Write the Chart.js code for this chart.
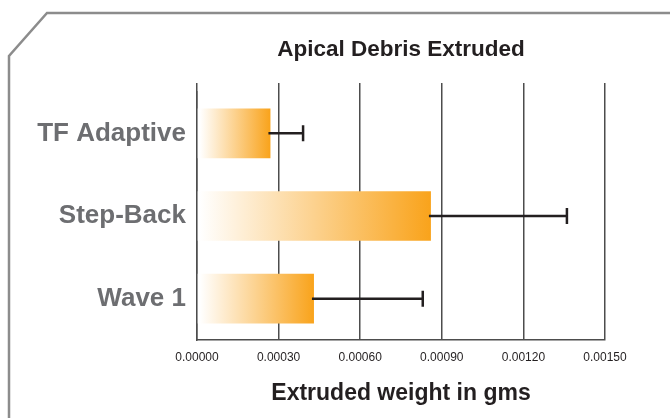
<!DOCTYPE html>
<html>
<head>
<meta charset="utf-8">
<script src="https://cdn.jsdelivr.net/npm/chart.js@4.4.0/dist/chart.umd.min.js"></script>
<style>
  body { margin: 0; background: #fff; }
  #wrap { width: 670px; height: 418px; }
</style>
</head>
<body>
<div id="wrap"><canvas id="grafico"></canvas></div>
<script>
// datos
const categorias = ['TF Adaptive', 'Step-Back', 'Wave 1'];
const pesos = [0.00027, 0.00086, 0.00043];
const errores = [0.00012, 0.0005, 0.0004];
const ticksX = [0, 0.0003, 0.0006, 0.0009, 0.0012, 0.0015];

const fuente = "'Liberation Sans', Arial, sans-serif";

// marco gris con la esquina cortada
const marco = {
  id: 'marco',
  beforeDraw(chart) {
    const ctx = chart.ctx;
    ctx.save();
    ctx.strokeStyle = '#8c8c8c';
    ctx.lineWidth = 2.5;
    ctx.beginPath();
    ctx.moveTo(9, 420);
    ctx.lineTo(9, 56);
    ctx.lineTo(47, 13);
    ctx.lineTo(672, 13);
    ctx.stroke();
    ctx.restore();
  }
};

// barras de error a la derecha de cada barra
const barrasError = {
  id: 'barrasError',
  afterDatasetsDraw(chart) {
    const ctx = chart.ctx;
    const x = chart.scales.x;
    const meta = chart.getDatasetMeta(0);
    ctx.save();
    ctx.strokeStyle = '#231f20';
    ctx.lineWidth = 2.5;
    meta.data.forEach((bar, i) => {
      const x0 = bar.x - 2;
      const x1 = x.getPixelForValue(pesos[i] + errores[i]);
      ctx.beginPath();
      ctx.moveTo(x0, bar.y);
      ctx.lineTo(x1, bar.y);
      ctx.moveTo(x1, bar.y - 8);
      ctx.lineTo(x1, bar.y + 8);
      ctx.stroke();
    });
    ctx.restore();
  }
};

function degradado(context) {
  const chart = context.chart;
  if (!chart.chartArea) return '#f9a31b';
  const x = chart.scales.x;
  const i = context.dataIndex;
  const a = x.getPixelForValue(0) + 3;
  const b = x.getPixelForValue(pesos[i]);
  const g = chart.ctx.createLinearGradient(a, 0, b, 0);
  g.addColorStop(0, 'rgba(255,255,255,1)');
  g.addColorStop(1, '#f9a31b');
  return g;
}

function init() {
  const grafico = document.getElementById('grafico');
  new Chart(grafico, {
    type: 'bar',
    data: {
      labels: categorias,
      datasets: [{
        label: 'Extruded weight in gms',
        data: pesos,
        backgroundColor: degradado,
        borderWidth: 0,
        barPercentage: 0.6,
        categoryPercentage: 1
      }]
    },
    options: {
      indexAxis: 'y',
      responsive: true,
      maintainAspectRatio: false,
      animation: false,
      layout: { padding: { left: 0, right: 65, top: 0, bottom: 0 } },
      plugins: {
        legend: { display: false },
        tooltip: { enabled: false }
      },
      scales: {
        x: {
          min: 0,
          max: 0.0015,
          afterBuildTicks(scale) { scale.ticks = ticksX.map(v => ({ value: v })); },
          afterFit(scale) { scale.height = 78; },
          grid: { color: '#4d4d4d', lineWidth: 1.5, drawTicks: false },
          border: { color: '#4d4d4d', width: 1.5 },
          ticks: {
            padding: 10,
            color: '#231f20',
            font: { family: fuente, size: 12 },
            callback: v => Number(v).toFixed(5)
          },
          title: {
            display: true,
            text: 'Extruded weight in gms',
            color: '#231f20',
            font: { family: fuente, size: 23, weight: 'bold' },
            padding: { top: 0, bottom: 11 }
          }
        },
        x2: {
          position: 'top',
          min: 0,
          max: 0.0015,
          afterBuildTicks(scale) { scale.ticks = ticksX.map(v => ({ value: v })); },
          afterFit(scale) { scale.height = 92; },
          grid: { color: '#4d4d4d', lineWidth: 1.5, drawOnChartArea: false, drawTicks: true, tickLength: 9 },
          border: { display: false },
          ticks: { display: false },
          title: {
            display: true,
            text: 'Apical Debris Extruded',
            color: '#231f20',
            font: { family: fuente, size: 22.5, weight: 'bold' },
            padding: { top: 36, bottom: 0 }
          }
        },
        y: {
          afterFit(scale) { scale.width = 197; },
          grid: { display: false, drawTicks: false },
          border: { color: '#4d4d4d', width: 1.5 },
          ticks: {
            padding: 11,
            color: '#6d6e71',
            font: { family: fuente, size: 26, weight: 'bold' }
          }
        }
      }
    },
    plugins: [marco, barrasError]
  });
}

init();
</script>
</body>
</html>
